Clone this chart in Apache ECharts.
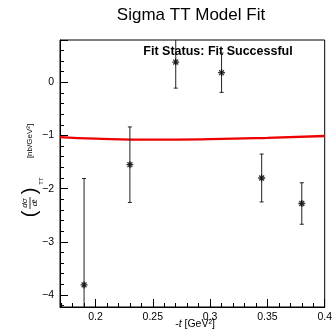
<!DOCTYPE html>
<html>
<head>
<meta charset="utf-8">
<script src="https://cdn.jsdelivr.net/npm/echarts@6/dist/echarts.min.js"></script>
<style>
html,body{margin:0;padding:0;background:#fff;}
#chart{width:335px;height:334px;}
</style>
</head>
<body>
<div id="chart"></div>
<script>
// Data
const tValues = [0.19, 0.23, 0.27, 0.31, 0.345, 0.38];
const sigmaTT = [-3.81, -1.55, 0.38, 0.18, -1.80, -2.28];
const sigmaErr = [2.0, 0.71, 0.49, 0.37, 0.45, 0.39];
const fitT = [0.169, 0.2, 0.25, 0.3, 0.35, 0.4];
const fitVal = [-1.03, -1.06, -1.08, -1.07, -1.045, -1.01];
const titleText = 'Sigma TT Model Fit';
const statusText = 'Fit Status: Fit Successful';

const FONT = '"Liberation Sans", Arial, Helvetica, sans-serif';
const chart = echarts.init(document.getElementById('chart'), null, {renderer: 'canvas'});

const pointData = tValues.map((t, i) => [t, sigmaTT[i]]);
const errData = tValues.map((t, i) => [t, sigmaTT[i], sigmaErr[i]]);
const fitData = fitT.map((t, i) => [t, fitVal[i]]);

const starPath = 'path://M5,0L5,10M0,5L10,5M1.5,1.5L8.5,8.5M1.5,8.5L8.5,1.5';
const rot = Math.PI / 2;

chart.setOption({
  animation: false,
  backgroundColor: '#fff',
  grid: {left: 60, right: 6, top: 40, bottom: 27, show: true, borderColor: '#000', borderWidth: 1, backgroundColor: 'transparent'},
  xAxis: {
    type: 'value', min: 0.169, max: 0.4, splitNumber: 5,
    axisLine: {show: true, onZero: false, lineStyle: {color: '#000', width: 1}},
    axisTick: {show: true, inside: true, length: 8, lineStyle: {color: '#000'}},
    minorTick: {show: true, splitNumber: 5, length: 4, lineStyle: {color: '#000'}},
    splitLine: {show: false},
    axisLabel: {show: true, showMinLabel: false, color: '#000', fontSize: 10.5, fontFamily: FONT, margin: 5,
      formatter: v => String(+v.toFixed(3))}
  },
  yAxis: {
    type: 'value', min: -4.226, max: 0.795, splitNumber: 5,
    axisLine: {show: true, onZero: false, lineStyle: {color: '#000', width: 1}},
    axisTick: {show: true, inside: true, length: 8, lineStyle: {color: '#000'}},
    minorTick: {show: true, splitNumber: 5, length: 4, lineStyle: {color: '#000'}},
    splitLine: {show: false},
    axisLabel: {show: true, showMinLabel: false, showMaxLabel: false, color: '#000', fontSize: 10.5, fontFamily: FONT, margin: 6,
      formatter: v => String(Math.round(v)).replace('-', '\u2212')}
  },
  series: [
    {
      type: 'line', data: fitData, smooth: true, showSymbol: false, symbol: 'none',
      lineStyle: {color: '#ee0000', width: 2.3}, z: 2
    },
    {
      type: 'custom', data: errData, clip: true, encode: {x: 0, y: 1}, z: 3,
      renderItem: (params, api) => {
        const x = api.value(0), y = api.value(1), e = api.value(2);
        const hi = api.coord([x, y + e]);
        const lo = api.coord([x, y - e]);
        const cap = 2;
        const st = {stroke: '#222', lineWidth: 1};
        return {type: 'group', children: [
          {type: 'line', shape: {x1: hi[0], y1: hi[1], x2: lo[0], y2: lo[1]}, style: st},
          {type: 'line', shape: {x1: hi[0] - cap, y1: hi[1], x2: hi[0] + cap, y2: hi[1]}, style: st},
          {type: 'line', shape: {x1: lo[0] - cap, y1: lo[1], x2: lo[0] + cap, y2: lo[1]}, style: st}
        ]};
      }
    },
    {
      type: 'scatter', data: pointData, symbol: starPath, symbolSize: 7, z: 4,
      itemStyle: {color: 'rgba(0,0,0,0)', borderColor: '#000', borderWidth: 1.3}
    }
  ],
  graphic: [
    {type: 'text', x: 191, y: 15, style: {text: titleText, fontSize: 17, fontFamily: FONT, fill: '#000', textAlign: 'center', textVerticalAlign: 'middle'}},
    {type: 'text', x: 218, y: 52, z: 1, style: {text: statusText, fontSize: 12.5, fontWeight: 'bold', fontFamily: FONT, fill: '#000', textAlign: 'center', textVerticalAlign: 'middle'}},
    {type: 'text', x: 195, y: 324, style: {text: '-{i|t} [GeV²]', fontSize: 10.5, fontFamily: FONT, fill: '#000', textAlign: 'center', textVerticalAlign: 'middle',
      rich: {i: {fontStyle: 'italic', fontSize: 10.5, fontFamily: FONT}}}},
    // y-axis title pieces (rotated)
    {type: 'text', x: 30, y: 214, rotation: rot, style: {text: '(', fontSize: 20, fontFamily: FONT, fill: '#000', textAlign: 'center', textVerticalAlign: 'middle'}},
    {type: 'text', x: 25, y: 203, rotation: rot, style: {text: 'dσ', fontSize: 8, fontStyle: 'italic', fontFamily: FONT, fill: '#000', textAlign: 'center', textVerticalAlign: 'middle'}},
    {type: 'line', shape: {x1: 30, y1: 197, x2: 30, y2: 209}, style: {stroke: '#000', lineWidth: 0.8}},
    {type: 'text', x: 35, y: 203, rotation: rot, style: {text: 'dt', fontSize: 8, fontStyle: 'italic', fontFamily: FONT, fill: '#000', textAlign: 'center', textVerticalAlign: 'middle'}},
    {type: 'text', x: 30, y: 191, rotation: rot, style: {text: ')', fontSize: 20, fontFamily: FONT, fill: '#000', textAlign: 'center', textVerticalAlign: 'middle'}},
    {type: 'text', x: 41, y: 181, rotation: rot, style: {text: 'TT', fontSize: 6, fontFamily: FONT, fill: '#000', textAlign: 'center', textVerticalAlign: 'middle'}},
    {type: 'text', x: 30, y: 141, rotation: rot, style: {text: '[nb/GeV²]', fontSize: 8, fontFamily: FONT, fill: '#000', textAlign: 'center', textVerticalAlign: 'middle'}}
  ]
});
</script>
</body>
</html>
